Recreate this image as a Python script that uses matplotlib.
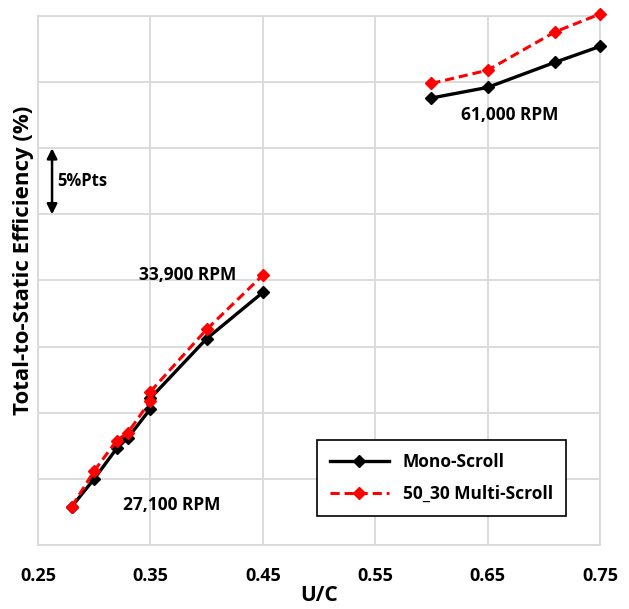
import numpy as np
import matplotlib
matplotlib.use("Agg")
import matplotlib.pyplot as plt

# U/C values and total-to-static efficiency (%)
mono_27100_x = [0.28, 0.30, 0.32, 0.33, 0.35]
mono_27100_y = [42.9, 45.0, 47.3, 48.1, 50.3]
multi_27100_x = [0.28, 0.30, 0.32, 0.33, 0.35]
multi_27100_y = [42.9, 45.6, 47.9, 48.5, 50.9]

mono_33900_x = [0.35, 0.40, 0.45]
mono_33900_y = [51.1, 55.6, 59.1]
multi_33900_x = [0.35, 0.40, 0.45]
multi_33900_y = [51.6, 56.3, 60.4]

mono_61000_x = [0.60, 0.65, 0.71, 0.75]
mono_61000_y = [73.8, 74.6, 76.5, 77.7]
multi_61000_x = [0.60, 0.65, 0.71, 0.75]
multi_61000_y = [74.9, 75.9, 78.8, 80.15]

x_ticks = [0.25, 0.35, 0.45, 0.55, 0.65, 0.75]
speed_labels = ["27,100 RPM", "33,900 RPM", "61,000 RPM"]

plt.rcParams['font.family'] = ['Open Sans', 'DejaVu Sans']
plt.rcParams['font.weight'] = 'bold'

fig = plt.figure(figsize=(6.29, 6.09), dpi=100)
ax = fig.add_axes([38 / 629, 64 / 609, 562 / 629, 529 / 609])

grid_col = '#d9d9d9'
mono_style = dict(color='black', lw=2.4, ls='-', marker='D', ms=6.5, clip_on=False, zorder=3)
multi_style = dict(color='#ff0000', lw=2.2, ls=(0, (3, 1.6)), marker='D', ms=6.5, clip_on=False, zorder=4)

ax.plot(mono_27100_x, mono_27100_y, label='Mono-Scroll', **mono_style)
ax.plot(mono_33900_x, mono_33900_y, **mono_style)
ax.plot(mono_61000_x, mono_61000_y, **mono_style)
ax.plot(multi_27100_x, multi_27100_y, label='50_30 Multi-Scroll', **multi_style)
ax.plot(multi_33900_x, multi_33900_y, **multi_style)
ax.plot(multi_61000_x, multi_61000_y, **multi_style)

ax.set_xlim(0.25, 0.75)
ax.set_ylim(40, 80)
ax.set_xticks(x_ticks)
ax.set_xticklabels([f"{v:.2f}" for v in x_ticks], fontsize=13, fontweight='bold')
ax.set_yticks(np.arange(40, 81, 5))
ax.set_yticklabels([])
ax.tick_params(length=0, pad=16)
ax.grid(True, color=grid_col, lw=1.3)
ax.set_axisbelow(True)
for s in ax.spines.values():
    s.set_color(grid_col)
    s.set_linewidth(1.3)

ax.set_xlabel("U/C", fontsize=15, fontweight='bold', labelpad=0)
fig.text(24 / 629, 1 - 260 / 609, "Total-to-Static Efficiency (%)", rotation=90,
         ha='center', va='center', fontsize=16, fontweight='bold')

# speed annotations
ax.text(0.369, 43.0, speed_labels[0], fontsize=12.5, fontweight='bold', ha='center', va='center')
ax.text(0.383, 60.4, speed_labels[1], fontsize=12.5, fontweight='bold', ha='center', va='center')
ax.text(0.67, 72.5, speed_labels[2], fontsize=12.5, fontweight='bold', ha='center', va='center')

# 5%Pts scale arrow
ax.annotate('', xy=(0.2625, 70), xytext=(0.2625, 65),
            arrowprops=dict(arrowstyle='<|-|>', color='black', lw=1.8,
                            mutation_scale=15, shrinkA=0, shrinkB=0))
ax.text(0.267, 67.5, "5%Pts", fontsize=12, fontweight='bold', ha='left', va='center')

leg = ax.legend(loc='upper left', bbox_to_anchor=(0.496, 0.199), borderaxespad=0,
                fancybox=False, edgecolor='black', framealpha=1, fontsize=12.5,
                handlelength=3.4, labelspacing=0.8, borderpad=0.75)
leg.get_frame().set_linewidth(1.2)
for t in leg.get_texts():
    t.set_fontweight('bold')

fig.savefig("out.png", dpi=100)
